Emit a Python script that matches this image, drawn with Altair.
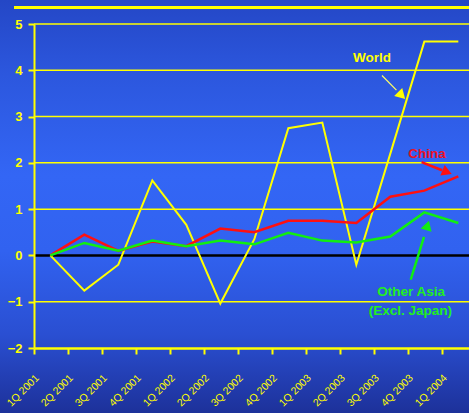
import altair as alt
import pandas as pd

quarters = ["1Q 2001", "2Q 2001", "3Q 2001", "4Q 2001", "1Q 2002", "2Q 2002", "3Q 2002",
            "4Q 2002", "1Q 2003", "2Q 2003", "3Q 2003", "4Q 2003", "1Q 2004"]
world = [0, -0.76, -0.2, 1.62, 0.66, -1.04, 0.35, 2.75, 2.87, -0.2, 2.2, 4.62, 4.62]
china = [0, 0.45, 0.1, 0.3, 0.2, 0.58, 0.5, 0.75, 0.75, 0.7, 1.27, 1.4, 1.71]
other_asia = [0, 0.27, 0.1, 0.32, 0.2, 0.32, 0.24, 0.49, 0.32, 0.28, 0.41, 0.93, 0.7]
y_ticks = [-2, -1, 0, 1, 2, 3, 4, 5]
grid_values = [-1, 1, 2, 3, 4, 5]

# annotations (data coordinates: x = quarter index, y = value)
ann_text = ["World", "China", "Other Asia", "(Excl. Japan)"]
ann_x = [9.94, 11.56, 11.09, 11.07]
ann_y = [4.27, 2.20, -0.79, -1.19]
ann_color = ["#ffff00", "#ee1122", "#22ee22", "#22ee22"]

shaft_x = [10.235, 11.40, 11.08]
shaft_y = [3.888, 2.017, -0.525]
shaft_x2 = [10.66, 12.0, 11.47]
shaft_y2 = [3.57, 1.84, 0.40]
shaft_color = ["#ffff66", "#ff1010", "#11ee11"]
shaft_width = [1.2, 2.5, 2.5]

head_x = [10.78, 12.105, 11.56]
head_y = [3.48, 1.812, 0.613]
head_angle = [135, 112, 17]
head_color = ["#ffff00", "#ff1010", "#11ee11"]

W, H = 435, 324
XMAX = 12.794
YELLOW = "#ffff00"
FONT = "Liberation Sans"

series = [("World", world, YELLOW, 2), ("China", china, "#ff1010", 2.5),
          ("Other", other_asia, "#11ee11", 2.5)]

rows = []
for name, vals, _, _ in series:
    for i, v in enumerate(vals):
        rows.append({"x": i + 0.48, "v": v, "s": name})
df = pd.DataFrame(rows)

label_array = "[" + ",".join("'" + q + "'" for q in quarters) + "]"

xscale = alt.Scale(domain=[0, XMAX], nice=False, zero=False)
yscale = alt.Scale(domain=[-2, 5], nice=False, zero=False)

x_axis = alt.Axis(values=list(range(len(quarters))), labelExpr=label_array + "[datum.value]",
                  labelAngle=-45, labelAlign="right", labelBaseline="middle",
                  labelPadding=22, labelOffset=3, labelColor=YELLOW, labelFont=FONT,
                  labelFontSize=10.5, labelFlush=False, labelOverlap=False, labelBound=False,
                  tickColor=YELLOW, tickSize=6, tickWidth=2, domainColor=YELLOW,
                  domainWidth=2.5, grid=False, title=None, zindex=1)
y_axis = alt.Axis(values=y_ticks, labelColor=YELLOW, labelFont=FONT, labelFontSize=13,
                  labelFontWeight="bold", labelPadding=6, tickColor=YELLOW, tickSize=6,
                  tickWidth=2, domainColor=YELLOW, domainWidth=2, grid=False, title=None,
                  zindex=1, labelFlush=False)


def X(f):
    return alt.X(f, scale=xscale, axis=x_axis)


def Y(f):
    return alt.Y(f, scale=yscale, axis=y_axis)


gradient = alt.Gradient(
    gradient="linear", x1=0, x2=0, y1=0, y2=1,
    stops=[alt.GradientStop(color="#2447c6", offset=0),
           alt.GradientStop(color="#2c57de", offset=0.18),
           alt.GradientStop(color="#3366f5", offset=0.42),
           alt.GradientStop(color="#3162f0", offset=0.6),
           alt.GradientStop(color="#2a4fd2", offset=0.8),
           alt.GradientStop(color="#1c2f96", offset=1.0)])

bg = alt.Chart(pd.DataFrame({"a": [0]})).mark_rect(fill=gradient).encode(
    x=alt.value(-34), x2=alt.value(W + 10), y=alt.value(-24), y2=alt.value(H + 70))

top_rule = alt.Chart(pd.DataFrame({"a": [0]})).mark_rule(color=YELLOW, strokeWidth=3).encode(
    x=alt.value(-20), x2=alt.value(W + 5), y=alt.value(-16.5))

grid = alt.Chart(pd.DataFrame({"v": grid_values})).mark_rule(color=YELLOW, strokeWidth=1.5).encode(
    y=Y("v:Q"), x=alt.value(0), x2=alt.value(W + 5))

zero = alt.Chart(pd.DataFrame({"v": [0]})).mark_rule(color="black", strokeWidth=2.5).encode(
    y=Y("v:Q"), x=alt.value(0), x2=alt.value(W + 5))

lines = []
for name, vals, col, wdt in series:
    lines.append(alt.Chart(df).transform_filter(alt.datum.s == name)
                 .mark_line(color=col, strokeWidth=wdt).encode(x=X("x:Q"), y=Y("v:Q")))

shafts_df = pd.DataFrame({"x": shaft_x, "v": shaft_y, "x2": shaft_x2, "v2": shaft_y2,
                          "c": shaft_color, "w": shaft_width})
shafts = alt.Chart(shafts_df).mark_rule().encode(
    x=X("x:Q"), y=Y("v:Q"), x2="x2:Q", y2="v2:Q",
    color=alt.Color("c:N", scale=None), size=alt.Size("w:Q", scale=None))

heads_df = pd.DataFrame({"x": head_x, "v": head_y, "a": head_angle, "c": head_color})
heads = alt.Chart(heads_df).mark_point(shape="triangle", filled=True, opacity=1, size=130).encode(
    x=X("x:Q"), y=Y("v:Q"),
    angle=alt.Angle("a:Q", scale=None), color=alt.Color("c:N", scale=None))

ann_df = pd.DataFrame({"t": ann_text, "x": ann_x, "v": ann_y, "c": ann_color})
ann = alt.Chart(ann_df).mark_text(font=FONT, fontSize=13.5, fontWeight="bold",
                                  align="center", baseline="middle").encode(
    x=X("x:Q"), y=Y("v:Q"), text="t:N", color=alt.Color("c:N", scale=None))

chart = alt.layer(bg, top_rule, grid, zero, *lines, shafts, heads, ann).properties(
    width=W, height=H,
    autosize=alt.AutoSizeParams(type="none"),
    padding={"left": 34, "top": 24, "right": 0, "bottom": 65},
    background="#1c2f96",
).configure_view(stroke=None)

chart.save("out.html", embed_options={"renderer": "svg", "actions": False})
